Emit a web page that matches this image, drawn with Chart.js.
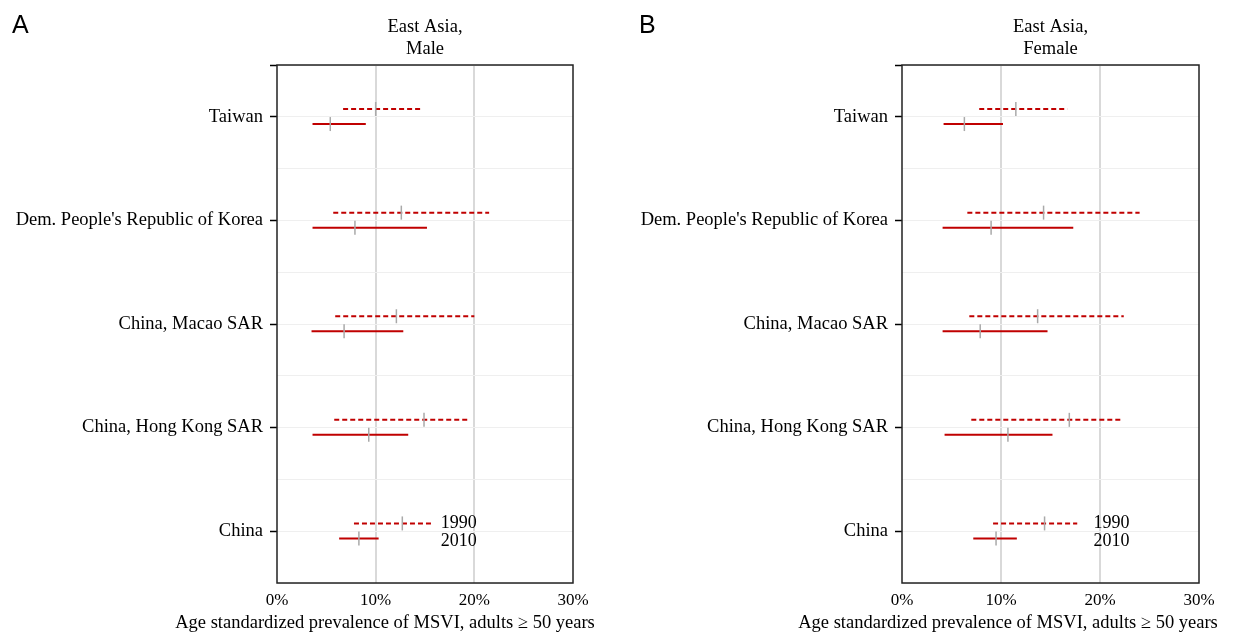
<!DOCTYPE html>
<html>
<head>
<meta charset="utf-8">
<script src="https://cdn.jsdelivr.net/npm/chart.js@4/dist/chart.umd.min.js"></script>
<style>
  body { margin: 0; background: #fff; }
  #wrap { position: relative; width: 1233px; height: 636px; background: #fff; }
  .panel { position: absolute; top: 0; height: 636px; }
  .letter { position: absolute; top: 10px; font: 25px "Liberation Sans", Arial, sans-serif; color: #000; }
</style>
</head>
<body>
<div id="wrap">
  <div class="panel" style="left:0;width:616px"><canvas id="chartA"></canvas></div>
  <div class="panel" style="left:616px;width:617px"><canvas id="chartB"></canvas></div>
  <div class="letter" style="left:12px">A</div>
  <div class="letter" style="left:639px">B</div>
</div>
<script>
var RED = "#c00000"
var GREY = "#a9a9a9"
var SERIF = "'Liberation Serif', 'Times New Roman', serif"
var XTITLE = "Age standardized prevalence of MSVI, adults \u2265 50 years"

var countries = ["Taiwan", "Dem. People's Republic of Korea", "China, Macao SAR", "China, Hong Kong SAR", "China"]
var xTicks = [0, 10, 20, 30]

// Male, % (lower, upper, estimate)
var male1990Low = [6.7, 5.7, 5.9, 5.8, 7.8]
var male1990High = [14.7, 21.5, 20.0, 19.4, 15.8]
var male1990Est = [10.0, 12.6, 12.1, 14.9, 12.7]
var male2010Low = [3.6, 3.6, 3.5, 3.6, 6.3]
var male2010High = [9.0, 15.2, 12.8, 13.3, 10.3]
var male2010Est = [5.4, 7.9, 6.8, 9.3, 8.3]

// Female
var female1990Low = [7.8, 6.6, 6.8, 7.0, 9.2]
var female1990High = [16.7, 24.0, 22.4, 22.2, 17.7]
var female1990Est = [11.5, 14.3, 13.7, 16.9, 14.4]
var female2010Low = [4.2, 4.1, 4.1, 4.3, 7.2]
var female2010High = [10.2, 17.3, 14.7, 15.2, 11.6]
var female2010Est = [6.3, 9.0, 7.9, 10.7, 9.5]

var SHIFT_1990 = -0.075
var SHIFT_2010 = 0.07

function segments(low, high, shift) {
  var pts = []
  countries.forEach(function (c, i) {
    pts.push({x: low[i], y: i + shift}, {x: high[i], y: i + shift}, {x: high[i], y: null})
  })
  return pts
}

function estimates(est, shift) {
  return countries.map(function (c, i) { return {x: est[i], y: i + shift} })
}

var frame = {
  id: "frame",
  beforeDatasetsDraw: function (chart) {
    var a = chart.chartArea, ctx = chart.ctx
    ctx.save()
    ctx.strokeStyle = "#222"
    ctx.lineWidth = 1.5
    ctx.strokeRect(a.left, a.top, a.right - a.left, a.bottom - a.top)
    ctx.restore()
  }
}

// year labels beside the last row, and the x axis title (wider than the plot)
var extraText = {
  id: "extraText",
  afterDatasetsDraw: function (chart, args, opts) {
    var ctx = chart.ctx
    var x = chart.scales.x.getPixelForValue(opts.at)
    var last = countries.length - 1
    ctx.save()
    ctx.font = "18px " + SERIF
    ctx.fillStyle = "#000"
    ctx.textAlign = "left"
    ctx.textBaseline = "middle"
    ctx.fillText("1990", x, chart.scales.y.getPixelForValue(last + SHIFT_1990))
    ctx.fillText("2010", x, chart.scales.y.getPixelForValue(last + SHIFT_2010) + 3)
    ctx.font = "18.5px " + SERIF
    ctx.textAlign = "center"
    ctx.fillText(XTITLE, opts.titleX, 623)
    ctx.restore()
  }
}

function makeChart(id, title, d, yWidth, padRight, labelAt, titleX) {
  return new Chart(document.getElementById(id), {
    type: "scatter",
    data: {
      datasets: [
        {label: "1990 est", data: estimates(d.est1990, SHIFT_1990), pointStyle: "line", rotation: 90,
         pointRadius: 7, pointBorderWidth: 1.5, pointBorderColor: GREY, pointBackgroundColor: GREY},
        {label: "2010 est", data: estimates(d.est2010, SHIFT_2010), pointStyle: "line", rotation: 90,
         pointRadius: 7, pointBorderWidth: 1.5, pointBorderColor: GREY, pointBackgroundColor: GREY},
        {label: "1990", data: segments(d.low1990, d.high1990, SHIFT_1990), showLine: true, spanGaps: false,
         borderColor: RED, borderWidth: 2, borderDash: [5, 3], pointRadius: 0},
        {label: "2010", data: segments(d.low2010, d.high2010, SHIFT_2010), showLine: true, spanGaps: false,
         borderColor: RED, borderWidth: 2, pointRadius: 0}
      ]
    },
    options: {
      responsive: false,
      animation: false,
      layout: {padding: {left: 0, right: padRight, top: 0, bottom: 0}},
      plugins: {
        legend: {display: false},
        tooltip: {enabled: false},
        title: {display: true, text: title, fullSize: false, color: "#000",
                font: {family: SERIF, size: 18.5, weight: "normal", lineHeight: 1.2},
                padding: {top: 16, bottom: 4.6}},
        extraText: {at: labelAt, titleX: titleX}
      },
      scales: {
        x: {
          type: "linear", min: 0, max: 30,
          afterBuildTicks: function (s) { s.ticks = xTicks.map(function (v) { return {value: v} }) },
          afterFit: function (s) { s.height = 53 },
          grid: {drawTicks: false, lineWidth: 2,
                 color: function (c) { return (c.tick && c.tick.value > 0 && c.tick.value < 30) ? "#d9d9d9" : "rgba(0,0,0,0)" }},
          border: {display: false},
          ticks: {color: "#000", padding: 7, font: {family: SERIF, size: 17},
                  callback: function (v) { return v + "%" }}
        },
        y: {
          type: "linear", min: -0.5, max: 4.5, reverse: true,
          afterBuildTicks: function (s) {
            var t = []
            for (var v = -0.5; v <= 4.5; v += 0.5) t.push({value: v})
            s.ticks = t
          },
          afterFit: function (s) { s.width = yWidth },
          grid: {color: "#efefef", lineWidth: 1, tickLength: 7, tickWidth: 1.5,
                 tickColor: function (c) { var v = c.tick ? c.tick.value : 0; return (Number.isInteger(v) || v === -0.5) ? "#000" : "rgba(0,0,0,0)" }},
          border: {display: false},
          ticks: {color: "#000", padding: 7, autoSkip: false, font: {family: SERIF, size: 18.5},
                  callback: function (v) { return Number.isInteger(v) ? countries[v] : "" }}
        }
      }
    },
    plugins: [frame, extraText]
  })
}

document.getElementById("chartA").width = 616
document.getElementById("chartA").height = 636
document.getElementById("chartB").width = 617
document.getElementById("chartB").height = 636

makeChart("chartA", ["East Asia,", "Male"], {
  low1990: male1990Low, high1990: male1990High, est1990: male1990Est,
  low2010: male2010Low, high2010: male2010High, est2010: male2010Est
}, 277, 43, 16.6, 385)

makeChart("chartB", ["East Asia,", "Female"], {
  low1990: female1990Low, high1990: female1990High, est1990: female1990Est,
  low2010: female2010Low, high2010: female2010High, est2010: female2010Est
}, 286, 34, 19.35, 392)
</script>
</body>
</html>
